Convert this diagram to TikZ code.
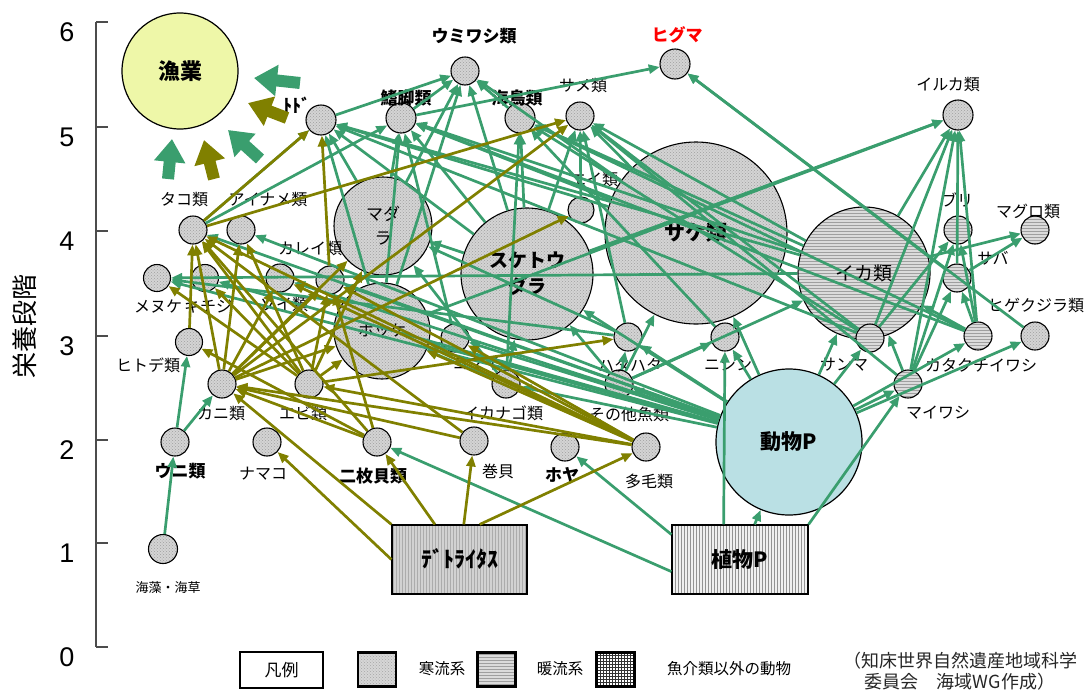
\documentclass[tikz,border=0pt]{standalone}
\usepackage{fontspec}
\setmainfont{Noto Sans CJK JP}
\newfontfamily\arialf{Liberation Sans}
\usetikzlibrary{arrows.meta,patterns}
\definecolor{grn}{RGB}{58,158,110}
\definecolor{olv}{RGB}{128,128,0}
\definecolor{gyoc}{RGB}{238,247,168}
\definecolor{dobc}{RGB}{186,224,228}
\begin{document}
\begin{tikzpicture}[x=1pt,y=-1pt,
  cold/.style={circle,draw=black,line width=1.1pt,inner sep=0pt,minimum size=#1,preaction={fill=gray!34},pattern=crosshatch dots,pattern color=gray!75},
  warm/.style={circle,draw=black,line width=1.1pt,inner sep=0pt,minimum size=#1,preaction={fill=gray!28},pattern=horizontal lines,pattern color=gray!75},
  lab/.style={inner sep=0pt,font=\fontsize{16}{18}\selectfont},
  blab/.style={inner sep=0pt,font=\bfseries\fontsize{17}{19}\selectfont},
  num/.style={inner sep=0pt,font=\arialf\fontsize{27}{29}\selectfont},
  ge/.style={draw=grn,line width=2.7pt,-{Triangle[length=11pt,width=9pt]}},
  oe/.style={draw=olv,line width=2.7pt,-{Triangle[length=11pt,width=9pt]}},
  bigg/.style={draw=grn,line width=12pt,-{Triangle[length=23pt,width=30pt]}},
  bigo/.style={draw=olv,line width=12pt,-{Triangle[length=23pt,width=30pt]}},
  legbox/.style={draw=black,line width=2.4pt,minimum width=38pt,minimum height=34pt,inner sep=0pt}
]
\useasboundingbox (0,0) rectangle (1091,691);

% axis
\draw[line width=1.3pt,black!70] (96,22) -- (96,647);
\foreach \v/\yy in {6/22,5/127,4/231,3/336,2/440,1/543,0/647}{
  \draw[line width=1.3pt,black!70] (96,\yy) -- (108,\yy);
  \node[num] (n\v) at (67,\yy+10) {\v};
}
\node[rotate=90,inner sep=0pt,font=\fontsize{26}{28}\selectfont] (ylab) at (25,326) {栄養段階};

% big nodes
\node[circle,draw=black,line width=1.2pt,fill=gyoc,minimum size=116pt,inner sep=0pt,font=\bfseries\fontsize{22}{24}\selectfont] (gyo) at (180,71) {漁業};
\node[cold=182pt,font=\bfseries\fontsize{21}{23}\selectfont] (sake) at (696,233) {サケ類};
\node[cold=132pt,align=center,font=\bfseries\fontsize{19}{26}\selectfont] (suke) at (527,274) {スケトウ\\ダラ};
\node[warm=132pt,font=\fontsize{19}{21}\selectfont] (ika) at (864,273) {イカ類};
\node[cold=98pt,align=center,font=\fontsize{17}{24}\selectfont] (madara) at (383,226) {マダ\\ラ};
\node[cold=96pt,font=\fontsize{16}{18}\selectfont] (hokke) at (382,331) {ホッケ};
\node[circle,draw=black,line width=1.2pt,fill=dobc,minimum size=146pt,inner sep=0pt,font=\bfseries\fontsize{21}{23}\selectfont] (dobutsu) at (789,442) {動物P};
\node[rectangle,draw=black,line width=1.2pt,minimum width=135pt,minimum height=69pt,preaction={fill=gray!35},pattern=vertical lines,pattern color=gray!65,font=\bfseries\fontsize{22}{24}\selectfont] (detri) at (459.5,559.5) {ﾃﾞﾄﾗｲﾀｽ};
\node[rectangle,draw=black,line width=1.2pt,minimum width=136pt,minimum height=69pt,preaction={fill=gray!12},pattern=vertical lines,pattern color=gray!85,font=\bfseries\fontsize{21}{23}\selectfont] (shoku) at (740,559.5) {植物P};

% small nodes
\node[cold=30pt] (todo) at (321,120) {};
\node[cold=28pt] (umi) at (465,71) {};
\node[cold=30pt] (kyaku) at (401,118) {};
\node[cold=30pt] (kaicho) at (520,118) {};
\node[cold=28pt] (same) at (580,116) {};
\node[cold=30pt] (higu) at (675,64) {};
\node[cold=30pt] (iruka) at (958,115) {};
\node[cold=28pt] (tako) at (193,230) {};
\node[cold=28pt] (ainame) at (241,230) {};
\node[cold=26pt] (ei) at (581,210) {};
\node[warm=28pt] (buri) at (958,230) {};
\node[warm=28pt] (maguro) at (1035,230) {};
\node[warm=28pt] (saba) at (957,278) {};
\node[cold=28pt] (hige) at (1035,336) {};
\node[warm=28pt] (kata) at (978,336) {};
\node[warm=28pt] (maiw) at (908,384) {};
\node[warm=28pt] (sanma) at (870,338) {};
\node[cold=28pt] (nishin) at (725,337) {};
\node[cold=28pt] (hata) at (628,337) {};
\node[cold=28pt] (sonota) at (619,384) {};
\node[cold=28pt] (ikanago) at (506,384) {};
\node[cold=28pt] (komai) at (455,338) {};
\node[cold=28pt] (soi) at (280,278) {};
\node[cold=28pt] (karei) at (330,280) {};
\node[cold=27pt] (menuke) at (157,278) {};
\node[cold=27pt] (kichiji) at (205,278) {};
\node[cold=27pt] (hitode) at (189,342) {};
\node[cold=28pt] (kani) at (222,384) {};
\node[cold=28pt] (ebi) at (309,384) {};
\node[cold=28pt] (uni) at (175,442) {};
\node[cold=28pt] (namako) at (267,442) {};
\node[cold=28pt] (nimai) at (377,442) {};
\node[cold=28pt] (makigai) at (474,441) {};
\node[cold=28pt] (hoya) at (565,447) {};
\node[cold=28pt] (tamou) at (646,447) {};
\node[cold=29pt] (kaiso) at (163,549) {};

% labels
\node[blab] (t-umi) at (474,36) {ウミワシ類};
\node[blab] (t-kyaku) at (406,98) {鰭脚類};
\node[blab] (t-kaicho) at (517,98) {海鳥類};
\node[lab] (t-same) at (583,86) {サメ類};
\node[blab,text=red] (t-higu) at (677,35) {ヒグマ};
\node[inner sep=0pt,font=\bfseries\fontsize{18}{20}\selectfont] (t-todo) at (297,105) {ﾄﾄﾞ};
\node[lab] (t-iruka) at (948,85) {イルカ類};
\node[lab] (t-tako) at (184,200) {タコ類};
\node[lab] (t-ainame) at (268,200) {アイナメ類};
\node[lab] (t-ei) at (594,180) {エイ類};
\node[lab] (t-buri) at (957,200) {ブリ};
\node[lab] (t-maguro) at (1028,211) {マグロ類};
\node[lab] (t-saba) at (993,258) {サバ};
\node[lab] (t-hige) at (1036,305) {ヒゲクジラ類};
\node[lab] (t-kata) at (981,365) {カタクチイワシ};
\node[lab] (t-maiw) at (938,413) {マイワシ};
\node[lab] (t-sanma) at (844,365) {サンマ};
\node[lab] (t-nishin) at (728,365) {ニシン};
\node[lab] (t-hata) at (630,365) {ハタハタ};
\node[lab] (t-sonota) at (629,414) {その他魚類};
\node[lab] (t-ikanago) at (503,413) {イカナゴ類};
\node[lab] (t-komai) at (476,364) {コマイ};
\node[lab] (t-karei) at (310,249) {カレイ類};
\node[lab] (t-soi) at (284,305) {ソイ類};
\node[lab] (t-menuke) at (158,307) {メヌケ};
\node[lab] (t-kichiji) at (208,307) {キチジ};
\node[lab] (t-hitode) at (148,365) {ヒトデ類};
\node[lab] (t-kani) at (221,413) {カニ類};
\node[lab] (t-ebi) at (303,413) {エビ類};
\node[blab] (t-uni) at (180,471) {ウニ類};
\node[lab] (t-namako) at (263,474) {ナマコ};
\node[blab] (t-nimai) at (373,476) {二枚貝類};
\node[lab] (t-makigai) at (498,471) {巻貝};
\node[blab] (t-hoya) at (562,475) {ホヤ};
\node[lab] (t-tamou) at (649,481) {多毛類};
\node[inner sep=0pt,font=\fontsize{13}{15}\selectfont] (t-kaiso) at (168,588) {海藻・海草};

% green edges
\foreach \a/\b in {todo/umi, kyaku/umi, kaicho/umi, madara/umi, hokke/umi, suke/umi, sake/umi,
  kyaku/higu, hige/higu, saba/higu,
  madara/todo, hokke/todo, suke/todo, ika/todo, sake/todo, tako/todo, sanma/todo,
  tako/kyaku, madara/kyaku, hokke/kyaku, suke/kyaku, ika/kyaku, sake/kyaku, komai/kyaku, kata/kyaku,
  ikanago/kaicho, suke/kaicho, ika/kaicho, sanma/kaicho, kata/kaicho, nishin/kaicho,
  suke/same, sake/same, ika/same, sanma/same, maiw/same, hata/same, ei/same,
  suke/iruka, hokke/iruka, ika/iruka, kata/iruka, sanma/iruka, maiw/iruka, saba/iruka,
  maiw/ika, kata/ika, dobutsu/ika, sonota/ika,
  maiw/buri, kata/buri, sanma/buri, maiw/saba, kata/saba, saba/maguro, ika/maguro,
  dobutsu/sanma, dobutsu/maiw, dobutsu/kata, dobutsu/hige, dobutsu/nishin,
  dobutsu/hata, sonota/hata, dobutsu/sake, sonota/sake, sonota/nishin,
  dobutsu/suke, ikanago/suke, sonota/suke, suke/madara, ikanago/madara, hata/madara,
  dobutsu/hokke, ikanago/hokke, dobutsu/komai, dobutsu/ikanago, dobutsu/karei, dobutsu/soi,
  dobutsu/menuke, hata/menuke, ika/menuke, dobutsu/kichiji, dobutsu/tako, dobutsu/ainame,
  dobutsu/sonota, uni/hitode, uni/kani, kaiso/uni,
  shoku.190/nimai, shoku.160/hoya, shoku/dobutsu, shoku.north east/maiw, shoku.115/nishin}
  \draw[ge] (\a) -- (\b);

% olive edges
\foreach \a/\b in {detri.60/tamou, detri/nimai, detri/makigai, detri.west/namako, detri.north west/kani,
  tamou/karei, tamou/soi, tamou/kani, tamou/ebi, tamou/hokke, tamou/tako, tamou/komai,
  nimai/tako, nimai/hitode, nimai/karei, nimai/kani, makigai/tako, makigai/kani,
  ebi/tako, ebi/ainame, ebi/madara, ebi/hokke, ebi/menuke, ebi/hata, ebi/karei, ebi/kichiji,
  kani/tako, kani/ainame, kani/madara, kani/same, kani/hokke, kani/karei, kani/ei, kani/soi,
  hitode/tako, tako/todo, tako/same, karei/todo}
  \draw[oe] (\a) -- (\b);

% arrows to fishery
\coordinate (a1s) at (300,83);  \coordinate (a1e) at (254,78);
\coordinate (a2s) at (287,118); \coordinate (a2e) at (248,103);
\coordinate (a3s) at (260,159); \coordinate (a3e) at (228,130);
\coordinate (a4s) at (214,179); \coordinate (a4e) at (204,140);
\coordinate (a5s) at (168,179); \coordinate (a5e) at (172,139);
\draw[bigg] (a1s) -- (a1e);
\draw[bigo] (a2s) -- (a2e);
\draw[bigg] (a3s) -- (a3e);
\draw[bigo] (a4s) -- (a4e);
\draw[bigg] (a5s) -- (a5e);

% legend
\node[draw=black,line width=1.6pt,minimum width=83pt,minimum height=36pt,inner sep=0pt,font=\fontsize{17}{19}\selectfont] (leg) at (281.5,670) {凡例};
\node[legbox,preaction={fill=gray!32},pattern=crosshatch dots,pattern color=gray!70] (lgc) at (377,669.5) {};
\node[inner sep=0pt,font=\fontsize{15.5}{17}\selectfont] (lgct) at (442,669) {寒流系};
\node[legbox,preaction={fill=gray!28},pattern=horizontal lines,pattern color=gray!75] (lgw) at (496.5,669.5) {};
\node[inner sep=0pt,font=\fontsize{15.5}{17}\selectfont] (lgwt) at (560,669) {暖流系};
\node[legbox,preaction={fill=white},pattern=grid,pattern color=black!80] (lgg) at (615.5,669.5) {};
\node[inner sep=0pt,font=\fontsize{15.5}{17}\selectfont] (lggt) at (729,669) {魚介類以外の動物};
\node[inner sep=0pt,align=center,text=black!85,font=\fontsize{18}{21}\selectfont] (cite) at (960,671) {（知床世界自然遺産地域科学\\委員会　海域WG作成）};
\end{tikzpicture}
\end{document}
